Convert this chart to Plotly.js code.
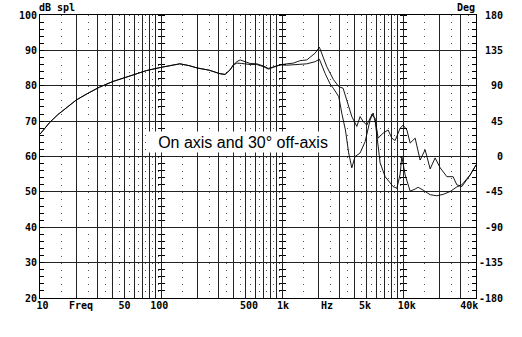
<!DOCTYPE html>
<html>
<head>
<meta charset="utf-8">
<script src="https://cdn.plot.ly/plotly-3.0.1.min.js"></script>
<style>html,body{margin:0;padding:0;background:#fff;}#chart{width:522px;height:337px;}</style>
</head>
<body>
<div id="chart"></div>
<script>
// On-axis response (Hz, dB SPL)
const freqOn = [10,12,14,17,20,25,31,40,50,63,76,100,126,143,170,200,250,307,338,372,396,
  423,450,480,544,618,700,771,848,962,1093,1240,1409,1600,1874,2033,2339,2492,2650,2900,3016,3192,3425,3767,4144,4413,4670,5012,5512,5870,6214,6836,7516,8064,8590,9445,10000,10740,11430,12570,13810,15200,16720,18380,20230,22980,25870,27780,30570,35810,40000];
const splOn = [66.3,69.6,71.8,74.2,76,77.9,79.6,81.2,82.3,83.3,84.3,85.2,85.9,86.2,85.7,85,84.4,83.4,83.2,84.5,85.9,
  86.8,87.3,87.0,86.3,86.2,85.6,84.9,85.4,85.9,86.2,86.4,87.1,87.3,89.2,90.9,85.4,83.5,81.8,80,79.6,79.3,76,71.3,68.5,71.3,69.9,68.9,71.8,70.8,65.2,66.6,67.5,65.2,64.5,68,68.9,67.5,63.8,65.2,59,61.9,56.5,59.6,56.8,54.3,54.3,52,51.5,54.8,57.6];
// 30 degree off-axis response (Hz, dB SPL)
const freqOff = [10,12,14,17,20,25,31,40,50,63,76,100,126,143,170,200,250,307,338,372,396,
  423,464,544,618,700,771,848,962,1093,1240,1409,1600,1874,2033,2266,2492,2650,2940,3114,3336,3550,3767,4010,4413,4853,5337,5649,5900,6457,7100,8267,8872,9445,9757,10390,11430,12570,13300,14630,16720,18990,21420,24450,27780,30570,35810,40000];
const splOff = [66.3,69.6,71.8,74.2,76,77.9,79.6,81.2,82.3,83.3,84.3,85.2,85.9,86.2,85.7,85,84.4,83.4,83.2,84.5,85.9,
  86.4,86.3,86.0,86.0,85.4,84.7,85.3,85.9,85.8,85.9,86.0,86.2,86.8,87.5,83.5,80.5,79.3,76.9,72.2,67.5,61,56.8,60,61,64.2,70.3,72.3,69.5,58.2,54.3,51.5,51,55,60,54.8,50.2,50.8,51.3,50.5,49.2,48.9,49.3,50.1,51.4,52,54.8,57.6];

// Axis ticks / grid
const solidGridHz = [20,30,40,50,60,70,80,90,100,200,300,400,500,600,700,800,900,1000,2000,3000,4000,5000,6000,7000,8000,9000,10000,20000,30000];
const dottedGridHz = [15,25,35,45,55,65,75,85,95,150,250,350,450,550,650,750,850,950,1500,2500,3500,4500,5500,6500,7500,8500,9500,15000,25000,35000];
const xLabelHz = [10.49,21.8,50,96.5,533,1019,2355,4853,10730,35120];
const xLabelText = ['10','Freq','50','100','500','1k','Hz','5k','10k','40k'];
const dbTicks = [20,30,40,50,60,70,80,90,100];
const degTicks = [-180,-135,-90,-45,0,45,90,135,180];
const degText = ['-180','-135','\u00a0-90','\u00a0-45','\u00a0\u00a0\u00a00','\u00a0\u00a045','\u00a0\u00a090','\u00a0135','\u00a0180'];
const crossHz = [100,1000,10000];

const monoFont = {family:'"DejaVu Sans Mono", monospace', size:10, color:'#000', weight:'bold'};
const xMin = 10, xMax = 40000;
const xRange = [Math.log10(xMin), Math.log10(xMax)];

const traces = [
  {x:freqOn, y:splOn, type:'scatter', mode:'lines', line:{color:'#000', width:0.9}, hoverinfo:'skip', xaxis:'x', yaxis:'y'},
  {x:freqOff, y:splOff, type:'scatter', mode:'lines', line:{color:'#000', width:0.9}, hoverinfo:'skip', xaxis:'x', yaxis:'y'},
  // empty traces so that the label / phase / marker axes are drawn
  {x:[], y:[], type:'scatter', mode:'lines', hoverinfo:'skip', xaxis:'x2', yaxis:'y'},
  {x:[], y:[], type:'scatter', mode:'lines', hoverinfo:'skip', xaxis:'x', yaxis:'y2'}
];

const layout = {
  width:522, height:337,
  margin:{l:40, r:46, t:15, b:39, pad:0},
  paper_bgcolor:'#fff', plot_bgcolor:'#fff',
  showlegend:false,
  font:{family:'"DejaVu Sans Mono", monospace', size:10, color:'#000'},
  xaxis:{
    type:'log', range:xRange, tickmode:'array', tickvals:solidGridHz,
    showticklabels:false, ticks:'', showgrid:true, gridcolor:'#222', gridwidth:1,
    showline:true, linecolor:'#000', linewidth:1, mirror:true, zeroline:false,
    minor:{tickmode:'array', tickvals:dottedGridHz, showgrid:true, gridcolor:'#555', gridwidth:1, griddash:'1px,6.075px', ticks:''}
  },
  xaxis2:{
    type:'log', range:xRange, overlaying:'x', anchor:'y', side:'bottom',
    tickmode:'array', tickvals:xLabelHz, ticktext:xLabelText, tickfont:monoFont,
    showgrid:false, ticks:'', showline:false, zeroline:false
  },
  yaxis:{
    range:[20,100], tickmode:'array', tickvals:dbTicks, tickfont:monoFont,
    showgrid:true, gridcolor:'#222', gridwidth:1, zeroline:false,
    ticks:'inside', ticklen:4, tickcolor:'#000',
    showline:true, linecolor:'#000', linewidth:1,
    minor:{tickmode:'linear', tick0:20, dtick:2, ticks:'inside', ticklen:4, tickcolor:'#000', showgrid:false}
  },
  yaxis2:{
    range:[-180,180], overlaying:'y', side:'right', anchor:'x',
    tickmode:'array', tickvals:degTicks, ticktext:degText, tickfont:monoFont,
    showgrid:false, zeroline:false, ticks:'inside', ticklen:4, tickcolor:'#000',
    showline:true, linecolor:'#000', linewidth:1,
    minor:{tickmode:'linear', tick0:-180, dtick:9, ticks:'inside', ticklen:4, tickcolor:'#000', showgrid:false}
  },
  annotations:[
    {text:'On axis and 30° off-axis', xref:'paper', yref:'paper', x:0.4656, y:0.553,
     xanchor:'center', yanchor:'middle', showarrow:false, bgcolor:'#fff', borderpad:0,
     width:190, height:20, font:{family:'"Liberation Sans", Arial, sans-serif', size:16, color:'#000', weight:'normal'}},
    {text:'dB spl', xref:'paper', yref:'paper', x:-0.007, y:1.025, xanchor:'left', yanchor:'middle', showarrow:false, font:monoFont},
    {text:'Deg', xref:'paper', yref:'paper', x:1.002, y:1.025, xanchor:'right', yanchor:'middle', showarrow:false, font:monoFont}
  ]
};

// tick marks drawn along the 100 Hz, 1 kHz and 10 kHz lines
let axN = 3;
crossHz.forEach(function(f){
  const p = Math.log10(f / xMin) / Math.log10(xMax / xMin);
  ['left','right'].forEach(function(s){
    layout['yaxis' + axN] = {
      range:[20,100], overlaying:'y', anchor:'free', position:p, side:s,
      tickmode:'linear', tick0:20, dtick:2, ticks:'outside', ticklen:3, tickcolor:'#000',
      showticklabels:false, showgrid:false, showline:false, zeroline:false
    };
    traces.push({x:[], y:[], type:'scatter', mode:'lines', hoverinfo:'skip', xaxis:'x', yaxis:'y' + axN});
    axN++;
  });
});

Plotly.newPlot('chart', traces, layout, {staticPlot:true, displayModeBar:false});
</script>
</body>
</html>
